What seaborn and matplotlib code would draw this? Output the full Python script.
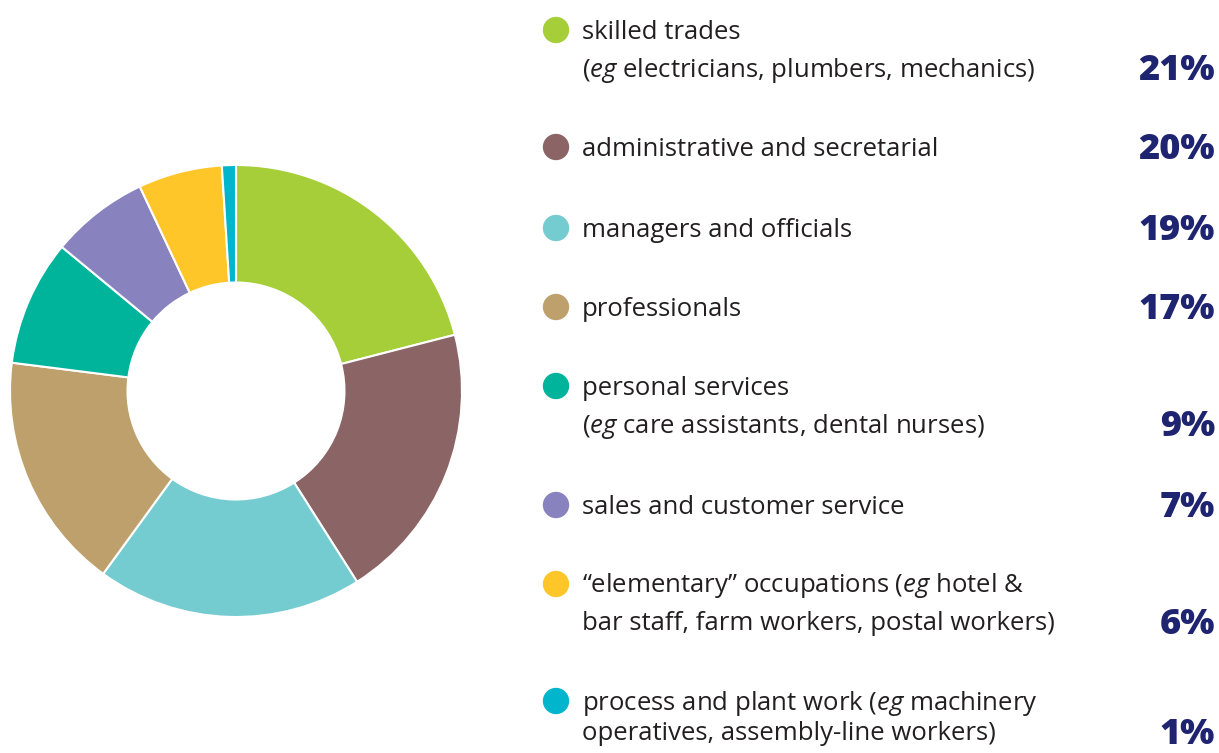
import matplotlib
matplotlib.use('Agg')
import matplotlib.pyplot as plt
import seaborn as sns

categories = ['skilled trades', 'administrative and secretarial',
              'managers and officials', 'professionals', 'personal services',
              'sales and customer service', 'elementary occupations',
              'process and plant work']
shares = [21, 20, 19, 17, 9, 7, 6, 1]
colors = ['#A6CE39', '#8B6465', '#74CCD1', '#BEA06C',
          '#00B49C', '#8882BE', '#FFC629', '#00B5CC']
label_lines = [
    ['skilled trades', r'($\mathit{eg}$ electricians, plumbers, mechanics)'],
    ['administrative and secretarial'],
    ['managers and officials'],
    ['professionals'],
    ['personal services', r'($\mathit{eg}$ care assistants, dental nurses)'],
    ['sales and customer service'],
    ['\u201celementary\u201d occupations ($\\mathit{eg}$ hotel &',
     'bar staff, farm workers, postal workers)'],
    [r'process and plant work ($\mathit{eg}$ machinery',
     'operatives, assembly-line workers)'],
]
row_y = [30, 147, 228, 307, 386, 505, 584, 701]

sns.set_style('white')
plt.rcParams['font.family'] = ['Open Sans', 'DejaVu Sans']
plt.rcParams['mathtext.fontset'] = 'custom'
plt.rcParams['mathtext.it'] = 'Open Sans:italic'
plt.rcParams['mathtext.rm'] = 'Open Sans'

fig = plt.figure(figsize=(12.19, 7.53), dpi=100)

# donut
ax = fig.add_axes([10 / 1219, 1 - 617 / 753, 452 / 1219, 452 / 753])
ax.pie(shares, colors=colors, startangle=90, counterclock=False,
       wedgeprops=dict(width=0.52, edgecolor='white', linewidth=1.5))
ax.set_xlim(-1, 1)
ax.set_ylim(-1, 1)
ax.set_aspect('equal')

# legend panel in pixel coordinates
lx = fig.add_axes([0, 0, 1, 1])
lx.set_xlim(0, 1219)
lx.set_ylim(753, 0)
lx.axis('off')
sns.scatterplot(x=[556] * len(categories), y=row_y, hue=categories,
                palette=colors, s=360, linewidth=0, legend=False, ax=lx)
line_gap = 38
for lines, y, pct in zip(label_lines, row_y, shares):
    for i, txt in enumerate(lines):
        lx.text(582, min(y + 2 + i * line_gap, 734), txt, fontsize=18.5,
                color='#231F20', va='center', ha='left')
    last = min(y + 3 + (len(lines) - 1) * line_gap, 735)
    lx.text(1215, last, f'{pct}%', fontsize=26, fontweight='black',
            color='#1F2470', va='center', ha='right')

fig.savefig('out.png', dpi=100)
